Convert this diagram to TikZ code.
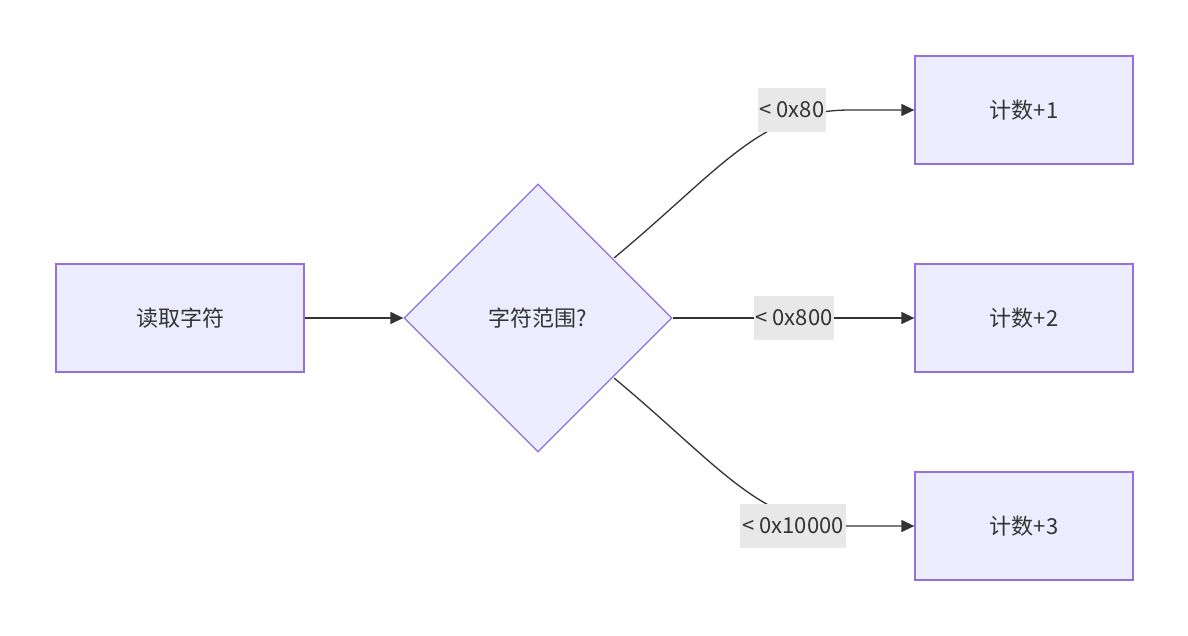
\documentclass[tikz,border=0pt]{standalone}
\usepackage{fontspec}
\setmainfont{Noto Sans CJK SC}
\usetikzlibrary{shapes.geometric,arrows.meta}
\definecolor{nfill}{HTML}{ECECFF}
\definecolor{nline}{HTML}{9370DB}
\definecolor{ltxt}{HTML}{333333}
\definecolor{lbg}{HTML}{E8E8E8}
\tikzset{
 box/.style={draw=nline,fill=nfill,line width=1.3pt,minimum width=248pt,minimum height=108pt,font=\fontsize{22}{26}\selectfont,text=ltxt},
 cbox/.style={box,minimum width=218pt},
 dia/.style={draw=nline,fill=nfill,line width=1.3pt,diamond,minimum width=268pt,minimum height=268pt,inner sep=0pt,font=\fontsize{22}{26}\selectfont,text=ltxt},
 elab/.style={fill=lbg,font=\fontsize{22}{26}\selectfont,text=ltxt,inner sep=2pt,minimum height=44pt},
 conn/.style={draw=ltxt,line width=1.3pt,-{Triangle[length=13pt,width=12pt]}}
}
\begin{document}
\begin{tikzpicture}[x=1pt,y=-1pt]
\useasboundingbox (0,0) rectangle (1188,636);
\node[box] (read) at (180,318) {读取字符};
\node[dia] (rng) at (538,318) {字符范围?};
\node[cbox] (c1) at (1024,110) {计数+1};
\node[cbox] (c2) at (1024,318) {计数+2};
\node[cbox] (c3) at (1024,526) {计数+3};
\coordinate (u) at (614,258);
\coordinate (d) at (614,378);
\draw[conn] (read.east) -- (rng.west);
\draw[conn] (u) .. controls (720,170) and (760,110) .. (850,110) -- (c1.west);
\draw[conn] (rng.east) -- (c2.west);
\draw[conn] (d) .. controls (720,466) and (760,526) .. (850,526) -- (c3.west);
\node[elab] (l1) at (792,110) {< 0x80};
\node[elab] (l2) at (794,318) {< 0x800};
\node[elab] (l3) at (793,526) {< 0x10000};
\end{tikzpicture}
\end{document}
